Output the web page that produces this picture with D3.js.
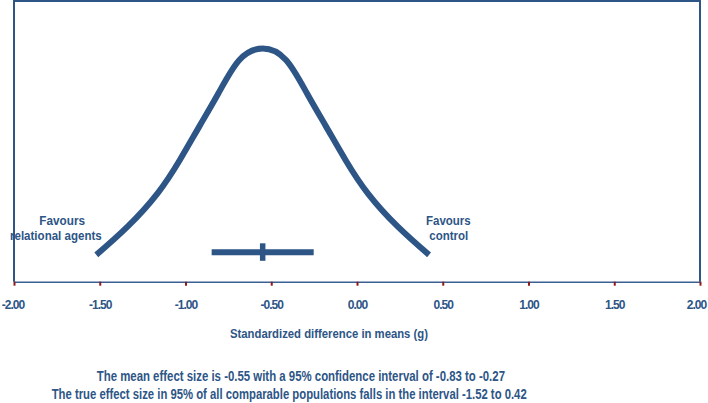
<!DOCTYPE html>
<html>
<head>
<meta charset="utf-8">
<script src="https://cdn.jsdelivr.net/npm/d3@7"></script>
<style>
  html, body { margin: 0; padding: 0; background: #fff; }
  svg text { font-family: "Liberation Sans", Arial, sans-serif; font-weight: bold; fill: #2d5586; }
</style>
</head>
<body>
<svg id="chart" width="708" height="403"></svg>
<script>
// Prediction-interval plot: distribution of true effects, with the
// mean effect and its 95% CI drawn as a bar underneath.
const tickValues = [-2, -1.5, -1, -0.5, 0, 0.5, 1, 1.5, 2];
const tickLabels = ["-2.00", "-1.50", "-1.00", "-0.50", "0.00", "0.50", "1.00", "1.50", "2.00"];

// curve: effect size vs. relative height (peak = 1)
const curveX = [-1.52, -1.338, -1.163, -1.033, -0.92, -0.808, -0.686, -0.55,
                -0.414, -0.292, -0.18, -0.067, 0.063, 0.238, 0.42];
const curveH = [0.115, 0.236, 0.379, 0.522, 0.665, 0.808, 0.951, 1,
                0.951, 0.808, 0.665, 0.522, 0.379, 0.236, 0.115];

const meanEffect = -0.55;
const ciLow = -0.83;
const ciHigh = -0.27;

const footnotes = [
  "The mean effect size is -0.55 with a 95% confidence interval of -0.83 to -0.27",
  "The true effect size in 95% of all comparable populations falls in the interval -1.52 to 0.42"
];

const blue = "#2d5586";
const svg = d3.select("#chart");
const plot = { left: 14, right: 700, top: 1, bottom: 281.7 };

const x = d3.scaleLinear().domain([-2, 2]).range([plot.left, plot.right]);
const y = d3.scaleLinear().domain([0, 1]).range([plot.bottom, 48.5]);

// frame: left, top, right
svg.append("path")
  .attr("d", `M${plot.left},${plot.bottom} V${plot.top} H${plot.right} V${plot.bottom}`)
  .attr("fill", "none")
  .attr("stroke", blue)
  .attr("stroke-width", 2);

// x axis
const axis = svg.append("g")
  .attr("transform", `translate(0,${plot.bottom})`)
  .call(d3.axisBottom(x)
    .tickValues(tickValues)
    .tickFormat((d, i) => tickLabels[i])
    .tickSizeInner(4)
    .tickSizeOuter(0));
axis.select(".domain").attr("stroke", "#3a6193").attr("stroke-width", 1.6);
axis.selectAll(".tick line").attr("stroke", "#8b1a1a").attr("stroke-width", 2);
axis.selectAll(".tick text")
  .attr("y", 27.6)
  .attr("dy", null)
  .attr("font-size", 12)
  .attr("letter-spacing", -1)
  .attr("fill", blue)
  .attr("dx", (d, i) => i === 0 ? -1.5 : (i === tickValues.length - 1 ? -4 : 0));

// distribution curve
const pts = curveX.map((v, i) => [v, curveH[i]]);
svg.append("path")
  .datum(pts)
  .attr("d", d3.line().x(d => x(d[0])).y(d => y(d[1])).curve(d3.curveNatural))
  .attr("fill", "none")
  .attr("stroke", blue)
  .attr("stroke-width", 6);

// mean effect with CI
const ciY = 252.3;
svg.append("line")
  .attr("x1", x(ciLow)).attr("x2", x(ciHigh))
  .attr("y1", ciY).attr("y2", ciY)
  .attr("stroke", blue).attr("stroke-width", 6)
  .attr("stroke-linecap", "square");
svg.append("line")
  .attr("x1", x(meanEffect)).attr("x2", x(meanEffect))
  .attr("y1", ciY - 9).attr("y2", ciY + 8.5)
  .attr("stroke", blue).attr("stroke-width", 5.5);

// side labels and captions: [text, x start, baseline, width, size]
const labels = [
  ["Favours", 39.3, 225.3, 45.7, 12.5],
  ["relational agents", 10, 239.5, 91.7, 12.5],
  ["Favours", 426, 225.3, 44.7, 12.5],
  ["control", 429.3, 239.8, 39, 12.5],
  ["Standardized difference in means (g)", 230, 338, 198, 13.5],
  [footnotes[0], 96.7, 381, 408.3, 14.5],
  [footnotes[1], 51.7, 399.3, 475, 14.5]
];
svg.selectAll("text.lbl").data(labels).join("text")
  .attr("class", "lbl")
  .attr("x", d => d[1])
  .attr("y", d => d[2])
  .attr("font-size", d => d[4])
  .attr("textLength", d => d[3])
  .attr("lengthAdjust", "spacingAndGlyphs")
  .text(d => d[0]);
</script>
</body>
</html>
